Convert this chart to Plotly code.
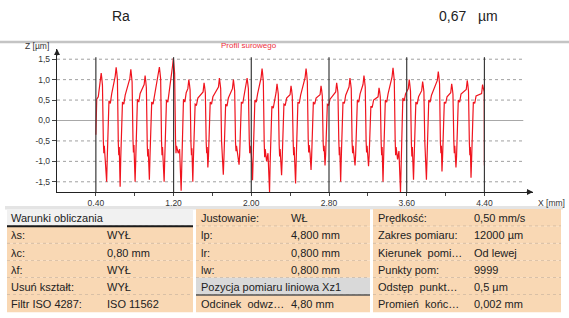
import plotly.graph_objects as go

# ---------------- data ----------------
header_param = "Ra"
header_value = "0,67"
header_unit = "µm"
chart_title = "Profil surowego"

# raw profile vertices (x in mm, z in µm)
profile_x = [
    0.400, 0.404, 0.409, 0.425, 0.445,
    0.455, 0.461, 0.468, 0.477, 0.482, 0.487, 0.511, 0.517, 0.527, 0.535, 0.549, 0.563, 0.599,
    0.609, 0.615, 0.622, 0.631, 0.636, 0.641, 0.650, 0.656, 0.666, 0.674, 0.688, 0.702, 0.750,
    0.760, 0.766, 0.773, 0.782, 0.787, 0.792, 0.804, 0.810, 0.820, 0.828, 0.842, 0.856, 0.897,
    0.907, 0.913, 0.920, 0.929, 0.934, 0.939, 0.951, 0.957, 0.967, 0.975, 0.989, 1.003, 1.044,
    1.054, 1.060, 1.067, 1.076, 1.081, 1.086, 1.103, 1.109, 1.119, 1.127, 1.141, 1.155, 1.188,
    1.198, 1.204, 1.211, 1.220, 1.225, 1.230, 1.248, 1.262, 1.278, 1.284, 1.294, 1.302, 1.316, 1.330, 1.347,
    1.357, 1.363, 1.370, 1.379, 1.384, 1.389, 1.398, 1.404, 1.414, 1.422, 1.436, 1.450, 1.504,
    1.514, 1.520, 1.527, 1.536, 1.541, 1.546, 1.553, 1.559, 1.569, 1.577, 1.591, 1.605, 1.662,
    1.672, 1.678, 1.685, 1.694, 1.699, 1.704, 1.712, 1.718, 1.728, 1.736, 1.750, 1.764, 1.806,
    1.816, 1.822, 1.829, 1.838, 1.843, 1.848, 1.860, 1.874, 1.880, 1.890, 1.898, 1.912, 1.926, 1.947,
    1.957, 1.963, 1.970, 1.979, 1.984, 1.989, 2.001, 2.013, 2.019, 2.029, 2.037, 2.051, 2.065, 2.101,
    2.111, 2.117, 2.124, 2.133, 2.138, 2.143, 2.158, 2.172, 2.188, 2.194, 2.204, 2.212, 2.226, 2.240, 2.255,
    2.265, 2.271, 2.278, 2.287, 2.292, 2.297, 2.312, 2.318, 2.328, 2.336, 2.350, 2.364, 2.399,
    2.409, 2.415, 2.422, 2.431, 2.436, 2.441, 2.456, 2.462, 2.472, 2.480, 2.494, 2.508, 2.554,
    2.564, 2.570, 2.577, 2.586, 2.591, 2.596, 2.605, 2.615, 2.621, 2.631, 2.639, 2.653, 2.667, 2.708,
    2.718, 2.724, 2.731, 2.740, 2.745, 2.750, 2.759, 2.765, 2.775, 2.783, 2.797, 2.811, 2.869,
    2.879, 2.885, 2.892, 2.901, 2.906, 2.911, 2.920, 2.926, 2.936, 2.944, 2.958, 2.972, 3.006,
    3.016, 3.022, 3.029, 3.038, 3.043, 3.048, 3.058, 3.068, 3.074, 3.084, 3.092, 3.106, 3.120, 3.150,
    3.160, 3.166, 3.173, 3.182, 3.187, 3.192, 3.207, 3.213, 3.223, 3.231, 3.245, 3.259, 3.305,
    3.315, 3.321, 3.328, 3.337, 3.342, 3.347, 3.356, 3.362, 3.372, 3.380, 3.394, 3.408, 3.449,
    3.459, 3.465, 3.472, 3.481, 3.486, 3.491, 3.506, 3.520, 3.536, 3.542, 3.552, 3.560, 3.574, 3.588, 3.616,
    3.626, 3.632, 3.639, 3.648, 3.653, 3.658, 3.670, 3.676, 3.686, 3.694, 3.708, 3.722, 3.754,
    3.764, 3.770, 3.777, 3.786, 3.791, 3.796, 3.803, 3.809, 3.819, 3.827, 3.841, 3.855, 3.915,
    3.925, 3.931, 3.938, 3.947, 3.952, 3.957, 3.963, 3.969, 3.979, 3.987, 4.001, 4.015, 4.053,
    4.063, 4.069, 4.076, 4.085, 4.090, 4.095, 4.107, 4.113, 4.123, 4.131, 4.145, 4.159, 4.213,
    4.223, 4.229, 4.236, 4.245, 4.250, 4.255, 4.262, 4.268, 4.278, 4.286, 4.300, 4.314, 4.371,
    4.381, 4.388, 4.394, 4.398, 4.400,
]
profile_z = [
    -0.35, 0.30, 0.52, 0.58, 0.94,
    1.16, 1.04, 0.86, -0.50, -0.80, -0.62, -1.50, -0.95, 0.05, 0.48, 0.42, 0.65, 1.08,
    1.30, 1.18, 1.00, -0.55, -0.85, -0.65, -1.62, -0.95, 0.00, 0.45, 0.40, 0.62, 1.03,
    1.25, 1.12, 0.95, -0.45, -0.78, -0.60, -1.50, -1.00, 0.05, 0.52, 0.45, 0.66, 0.88,
    1.10, 0.98, 0.80, -0.60, -0.88, -0.70, -1.45, -0.90, -0.05, 0.45, 0.40, 0.60, 1.09,
    1.31, 1.18, 1.02, -0.50, -0.85, -0.65, -1.50, -0.95, 0.00, 0.50, 0.45, 0.68, 1.31,
    1.53, 1.38, 1.15, -0.45, -0.80, -0.62, -0.80, -0.70, -1.72, -1.00, -0.05, 0.52, 0.45, 0.68, 0.78,
    1.00, 0.90, 0.75, -0.55, -0.85, -0.68, -1.50, -0.95, 0.00, 0.40, 0.38, 0.55, 0.70,
    0.92, 0.82, 0.68, -0.55, -0.80, -0.65, -1.15, -0.90, 0.05, 0.45, 0.40, 0.58, 0.82,
    1.04, 0.92, 0.78, -0.50, -0.85, -0.68, -1.33, -0.95, 0.00, 0.40, 0.35, 0.55, 0.78,
    1.00, 0.88, 0.72, -0.55, -0.75, -0.62, -0.85, -1.08, -0.85, -0.05, 0.45, 0.42, 0.62, 0.82,
    1.04, 0.92, 0.78, -0.45, -0.80, -0.62, -0.85, -1.46, -0.95, 0.00, 0.50, 0.45, 0.65, 1.05,
    1.27, 1.14, 0.95, -0.55, -0.90, -0.70, -1.00, -0.80, -1.75, -1.05, 0.05, 0.35, 0.30, 0.45, 0.68,
    0.90, 0.80, 0.65, -0.60, -0.88, -0.70, -1.34, -0.95, 0.00, 0.40, 0.38, 0.55, 0.63,
    0.85, 0.75, 0.60, -0.50, -0.85, -0.65, -1.54, -1.00, -0.05, 0.45, 0.42, 0.62, 1.05,
    1.27, 1.15, 0.95, -0.45, -0.78, -0.60, -0.80, -1.21, -0.90, 0.05, 0.45, 0.40, 0.55, 0.63,
    0.85, 0.75, 0.60, -0.55, -0.75, -0.62, -1.10, -0.85, 0.00, 0.40, 0.38, 0.52, 0.70,
    0.92, 0.82, 0.68, -0.50, -0.85, -0.65, -1.50, -0.95, 0.00, 0.45, 0.42, 0.62, 0.82,
    1.04, 0.92, 0.78, -0.55, -0.80, -0.62, -0.80, -1.10, -0.85, -0.05, 0.50, 0.45, 0.65, 0.88,
    1.10, 0.98, 0.82, -0.50, -0.78, -0.62, -1.12, -0.88, 0.00, 0.35, 0.32, 0.50, 0.58,
    0.80, 0.72, 0.58, -0.55, -0.85, -0.65, -1.50, -0.95, 0.05, 0.50, 0.45, 0.65, 1.07,
    1.29, 1.15, 0.98, -0.45, -0.85, -0.65, -0.95, -0.75, -1.75, -1.00, 0.00, 0.55, 0.48, 0.65, 0.78,
    1.00, 0.88, 0.72, -0.55, -0.88, -0.65, -1.45, -0.95, -0.05, 0.45, 0.40, 0.58, 0.73,
    0.95, 0.85, 0.70, -0.50, -0.82, -0.65, -1.45, -0.95, 0.00, 0.50, 0.45, 0.62, 0.98,
    1.20, 1.08, 0.90, -0.55, -0.80, -0.62, -1.25, -0.90, 0.05, 0.45, 0.42, 0.58, 0.68,
    0.90, 0.80, 0.65, -0.50, -0.80, -0.62, -1.15, -0.88, 0.00, 0.50, 0.45, 0.65, 0.76,
    0.98, 0.88, 0.72, -0.55, -0.85, -0.65, -1.40, -0.95, -0.05, 0.45, 0.42, 0.60, 0.66,
    0.88, 0.80, 0.72, 0.70, -1.10,
]

x_tickvals = [0.4, 0.8, 1.2, 1.6, 2.0, 2.4, 2.8, 3.2, 3.6, 4.0, 4.4]
x_ticktext = ["0,40", "", "1,20", "", "2,00", "", "2,80", "", "3,60", "", "4,40"]
x_section_lines = [0.4, 1.2, 2.0, 2.8, 3.6, 4.4]
y_tickvals = [-1.5, -1.0, -0.5, 0.0, 0.5, 1.0, 1.5]
y_ticktext = ["-1,5", "-1,0", "-0,5", "0,0", "0,5", "1,0", "1,5"]
y_grid = [-1.5, -1.0, -0.5, 0.5, 1.0, 1.5]
x_axis_title = "X [mm]"
y_axis_title = "Z [µm]"

colA_header = "Warunki obliczania"
colA_labels = ["λs:", "λc:", "λf:", "Usuń kształt:", "Filtr ISO 4287:"]
colA_values = ["WYŁ", "0,80 mm", "WYŁ", "WYŁ", "ISO 11562"]
colB_labels = ["Justowanie:", "lp:", "lr:", "lw:", "Pozycja pomiaru liniowa Xz1", "Odcinek  odwz…"]
colB_values = ["WŁ", "4,800 mm", "0,800 mm", "0,800 mm", "", "4,80 mm"]
colC_labels = ["Prędkość:", "Zakres pomiaru:", "Kierunek  pomi…", "Punkty pom:", "Odstęp  punkt…", "Promień  końc…"]
colC_values = ["0,50 mm/s", "12000 µm", "Od lewej", "9999", "0,5 µm", "0,002 mm"]

# ---------------- layout geometry (pixels) ----------------
W, H = 569, 318
ML, MR, MT, MB = 57, 36, 49, 126
PW, PH = W - ML - MR, H - MT - MB
X_RANGE = [0, 4.9]
Y_RANGE = [-1.75, 1.75]
FONT = "Liberation Sans, Arial, sans-serif"
PEACH = "#F9D8B4"


def fx(px):
    return (px - ML) / PW


def fy(py):
    return (H - MB - py) / PH


fig = go.Figure()
fig.add_trace(go.Scatter(x=profile_x, y=profile_z, mode="lines",
                         line=dict(color="#F0141E", width=1.2), hoverinfo="skip",
                         showlegend=False))

shapes = []
for v in y_grid:
    shapes.append(dict(type="line", xref="x", yref="y", x0=0, x1=4.8, y0=v, y1=v,
                       line=dict(color="#A0A0A0", width=1, dash="dot"), layer="below"))
shapes.append(dict(type="line", xref="x", yref="y", x0=0, x1=4.8, y0=0, y1=0,
                   line=dict(color="#A8A8A8", width=1), layer="below"))
for v in x_section_lines:
    shapes.append(dict(type="line", xref="x", yref="y", x0=v, x1=v, y0=-1.75, y1=1.55,
                       line=dict(color="#3A3A3A", width=1.2), layer="above"))

shapes.append(dict(type="line", xref="paper", yref="paper", x0=fx(0), x1=fx(W),
                   y0=fy(42), y1=fy(42), line=dict(color="#C4C4C4", width=2.5)))

row_top = 209
row_h = 17.2
cols = [(7, 193), (196, 370), (373, 561)]
shapes.append(dict(type="rect", xref="paper", yref="paper", x0=fx(5), x1=fx(563),
                   y0=fy(206), y1=fy(209.5), fillcolor="#E4E4E4", line=dict(width=0)))
for ci, (c0, c1) in enumerate(cols):
    for r in range(6):
        y0 = row_top + r * row_h
        y1 = y0 + row_h
        fill = PEACH
        if ci == 0 and r == 0:
            fill = "#F1F1F1"
        if ci == 1 and r == 4:
            fill = "#D9D9D9"
        shapes.append(dict(type="rect", xref="paper", yref="paper", x0=fx(c0), x1=fx(c1),
                           y0=fy(y0), y1=fy(y1), fillcolor=fill, line=dict(width=0)))
        if r < 5:
            shapes.append(dict(type="line", xref="paper", yref="paper", x0=fx(c0), x1=fx(c1),
                               y0=fy(y1), y1=fy(y1),
                               line=dict(color="#B8A898", width=1, dash="dot")))
shapes.append(dict(type="line", xref="paper", yref="paper", x0=fx(7), x1=fx(193),
                   y0=fy(row_top + row_h), y1=fy(row_top + row_h),
                   line=dict(color="#1A1A1A", width=2)))
shapes.append(dict(type="line", xref="paper", yref="paper", x0=fx(196), x1=fx(370),
                   y0=fy(row_top + 5 * row_h), y1=fy(row_top + 5 * row_h),
                   line=dict(color="#555555", width=1.5)))

ann = []


def text(px, py, s, size=11, color="#222222", xanchor="left"):
    ann.append(dict(x=fx(px), y=fy(py), xref="paper", yref="paper", text=s,
                    showarrow=False, xanchor=xanchor, yanchor="middle",
                    font=dict(family=FONT, size=size, color=color)))


text(121, 16, header_param, size=14, xanchor="center")
text(452, 16, header_value, size=14, xanchor="center")
text(488, 16, header_unit, size=14, xanchor="center")
text(249, 45, chart_title, size=8, color="#EE3040", xanchor="center")
text(37, 46, y_axis_title, size=8.5, color="#333333", xanchor="center")
text(567, 203, x_axis_title, size=8.5, color="#333333", xanchor="right")

for r in range(6):
    yc = row_top + r * row_h + row_h / 2 + 0.5
    if r == 0:
        text(9, yc, colA_header)
    else:
        text(9, yc, colA_labels[r - 1])
        text(105, yc, colA_values[r - 1])
    text(199, yc, colB_labels[r])
    if colB_values[r]:
        text(289, yc, colB_values[r])
    text(376, yc, colC_labels[r])
    text(472, yc, colC_values[r])

ann.append(dict(x=4.9, y=-1.75, xref="x", yref="y", ax=-8, ay=0, text="", showarrow=True,
                arrowhead=2, arrowsize=1, arrowwidth=1.2, arrowcolor="#222222"))
ann.append(dict(x=0, y=1.75, xref="x", yref="y", ax=0, ay=8, text="", showarrow=True,
                arrowhead=2, arrowsize=1, arrowwidth=1.2, arrowcolor="#222222"))

fig.update_layout(
    width=W, height=H,
    margin=dict(l=ML, r=MR, t=MT, b=MB, autoexpand=False),
    paper_bgcolor="white", plot_bgcolor="white",
    shapes=shapes, annotations=ann,
    showlegend=False,
    xaxis=dict(range=X_RANGE, showgrid=False, zeroline=False, showline=True,
               linecolor="#222222", linewidth=1.2, tickmode="array", automargin=False,
               tickvals=x_tickvals, ticktext=x_ticktext, ticks="outside", ticklen=3,
               tickcolor="#444444", tickfont=dict(family=FONT, size=8.5, color="#333333"),
               fixedrange=True),
    yaxis=dict(range=Y_RANGE, showgrid=False, zeroline=False, showline=True,
               linecolor="#222222", linewidth=1.2, tickmode="array", automargin=False,
               tickvals=y_tickvals, ticktext=y_ticktext, ticks="outside", ticklen=4,
               tickcolor="#444444", tickfont=dict(family=FONT, size=8.5, color="#333333"),
               fixedrange=True),
)

fig.write_html("out.html", config={"displayModeBar": False, "staticPlot": True},
               post_script="document.body.style.margin='0px';document.body.style.padding='0px';")
